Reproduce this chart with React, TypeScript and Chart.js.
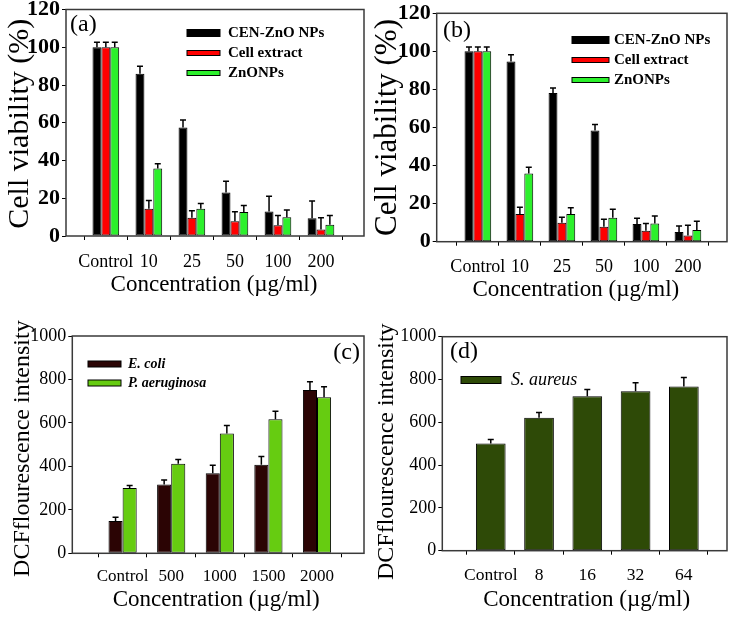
import React, { useEffect, useRef } from 'react';
import { Chart, registerables } from 'chart.js';

Chart.register(...registerables);

// ---------- data ----------
const viabilityLabels = ['Control', '10', '25', '50', '100', '200'];
const viabilitySeries = ['CEN-ZnO NPs', 'Cell extract', 'ZnONPs'];

const aCen = [100, 86, 57.5, 23, 13, 9.4];
const aCenErr = [2.7, 4, 4, 6, 8, 9.2];
const aExtract = [100, 14.5, 9.7, 7.8, 5.7, 3.5];
const aExtractErr = [2.7, 4.3, 3.7, 5.1, 5.1, 6.2];
const aZno = [100, 35.8, 14.5, 12.7, 9.9, 6.0];
const aZnoErr = [2.7, 2.5, 2.7, 3.4, 3.9, 4.8];

const bCen = [100, 94.7, 78.1, 58.4, 9.3, 5.1];
const bCenErr = [2.3, 3.5, 2.6, 3.2, 3, 3.1];
const bExtract = [100, 14.6, 10, 7.9, 5.8, 3.3];
const bExtractErr = [2.3, 3.5, 2.8, 3.9, 3.8, 5.4];
const bZno = [100, 35.8, 14.6, 12.6, 9.6, 6.1];
const bZnoErr = [2.3, 3.3, 3.3, 4.4, 3.9, 4.7];

const cLabels = ['Control', '500', '1000', '1500', '2000'];
const cSeries = ['E. coli', 'P. aeruginosa'];
const cEcoli = [149, 317, 368, 408, 751];
const cEcoliErr = [17, 20, 37, 38, 38];
const cPaer = [300, 412, 551, 617, 718];
const cPaerErr = [12, 20, 37, 37, 48];

const dLabels = ['Control', '8', '16', '32', '64'];
const dSeries = ['S. aureus'];
const dSaureus = [501, 621, 722, 745, 767];
const dSaureusErr = [19, 25, 31, 40, 42];

const viabilityAxis = { min: 0, max: 120, step: 20 };
const dcfAxis = { min: 0, max: 1000, step: 200 };

const viabilityYTitle = 'Cell viability (%)';
const dcfYTitle = 'DCFflourescence intensity';
const concTitle = 'Concentration (\u00b5g/ml)';

// ---------- styling ----------
const SERIF = '"Liberation Serif", "Times New Roman", serif';

const toPts = (vals: number[]) => vals.map((y, i) => ({ x: i, y }));

const decoPlugin = {
  id: 'deco',
  afterDatasetsDraw(chart: any, _args: any, opts: any) {
    const ctx = chart.ctx;
    const yScale = chart.scales.y;
    chart.data.datasets.forEach((ds: any, i: number) => {
      const errs = ds.errors;
      if (!errs) return;
      const meta = chart.getDatasetMeta(i);
      meta.data.forEach((bar: any, j: number) => {
        const v = ds.data[j].y;
        const top = yScale.getPixelForValue(v + errs[j]);
        ctx.save();
        ctx.strokeStyle = '#000';
        ctx.lineWidth = 1.5;
        ctx.beginPath();
        ctx.moveTo(bar.x, bar.y);
        ctx.lineTo(bar.x, top);
        ctx.moveTo(bar.x - opts.cap / 2, top);
        ctx.lineTo(bar.x + opts.cap / 2, top);
        ctx.stroke();
        ctx.restore();
      });
    });
  },
  afterDraw(chart: any, _args: any, opts: any) {
    const ctx = chart.ctx;
    const a = chart.chartArea;
    ctx.save();
    // frame
    ctx.strokeStyle = opts.boxColor;
    ctx.lineWidth = 1.5;
    ctx.strokeRect(a.left, a.top, a.right - a.left, a.bottom - a.top);

    ctx.fillStyle = '#000';
    // y title
    ctx.save();
    ctx.font = opts.yTitleFont;
    ctx.textAlign = 'center';
    ctx.textBaseline = 'middle';
    ctx.translate(opts.yTitleX, (a.top + a.bottom) / 2 + opts.yTitleDy);
    ctx.rotate(-Math.PI / 2);
    ctx.fillText(opts.yTitle, 0, 0);
    ctx.restore();
    // x title
    ctx.font = opts.xTitleFont;
    ctx.textAlign = 'center';
    ctx.textBaseline = 'middle';
    ctx.fillText(opts.xTitle, (a.left + a.right) / 2 + opts.xTitleDx, opts.xTitleY);
    // panel label
    ctx.font = opts.labelFont;
    ctx.textAlign = opts.labelAlign;
    ctx.fillText(opts.label, opts.labelX, opts.labelY);
    // legend
    ctx.textAlign = 'left';
    ctx.font = opts.legendFont;
    chart.data.datasets.forEach((ds: any, i: number) => {
      const cy = opts.legendY + i * opts.legendGap;
      const h = ds.legendH;
      ctx.fillStyle = ds.backgroundColor;
      ctx.fillRect(opts.legendX, cy - h / 2, opts.legendW, h);
      ctx.strokeStyle = '#000';
      ctx.lineWidth = 1;
      ctx.strokeRect(opts.legendX, cy - h / 2, opts.legendW, h);
      ctx.fillStyle = '#000';
      ctx.fillText(ds.label, opts.legendTextX, cy);
    });
    ctx.restore();
  },
};

type PanelSpec = {
  left: number;
  top: number;
  width: number;
  height: number;
  plot: { l: number; t: number; r: number; b: number };
  labels: string[];
  xMin: number;
  xMax: number;
  axis: { min: number; max: number; step: number };
  datasets: any[];
  catPct: number;
  yTickFont: any;
  xTickFont: any;
  xTickPad: number;
  deco: any;
};

function makeConfig(p: PanelSpec): any {
  return {
    type: 'bar',
    data: { datasets: p.datasets },
    plugins: [decoPlugin],
    options: {
      animation: false,
      responsive: false,
      devicePixelRatio: 1,
      layout: {
        padding: { left: 0, top: p.plot.t, right: p.width - p.plot.r, bottom: 0 },
      },
      datasets: {
        bar: {
          categoryPercentage: p.catPct,
          barPercentage: 1,
          borderWidth: 1,
          borderColor: '#000',
          borderSkipped: false,
        },
      },
      plugins: {
        legend: { display: false },
        tooltip: { enabled: false },
        deco: p.deco,
      },
      scales: {
        x: {
          type: 'linear',
          min: p.xMin,
          max: p.xMax,
          offset: false,
          afterBuildTicks: (s: any) => {
            s.ticks = p.labels.map((_, i) => ({ value: i }));
          },
          afterFit: (s: any) => {
            s.height = p.height - p.plot.b;
            s.paddingLeft = 0;
            s.paddingRight = 0;
          },
          ticks: {
            autoSkip: false,
            maxRotation: 0,
            minRotation: 0,
            padding: p.xTickPad,
            color: '#000',
            font: p.xTickFont,
            callback: (v: any) => p.labels[Math.round(v)] ?? '',
          },
          grid: {
            drawOnChartArea: false,
            drawTicks: true,
            tickLength: 4,
            color: '#000',
            lineWidth: 1,
          },
          border: { display: false },
        },
        y: {
          type: 'linear',
          min: p.axis.min,
          max: p.axis.max,
          afterFit: (s: any) => {
            s.width = p.plot.l;
            s.paddingTop = 0;
            s.paddingBottom = 0;
          },
          ticks: {
            stepSize: p.axis.step,
            padding: 2,
            color: '#000',
            font: p.yTickFont,
            callback: (v: any) => String(v),
          },
          grid: {
            drawOnChartArea: false,
            drawTicks: true,
            tickLength: 4,
            color: '#000',
            lineWidth: 1,
          },
          border: { display: false },
        },
      },
    },
  };
}

const GREEN_A = '#2cf02c';
const RED_A = '#ff0000';

const panels: PanelSpec[] = [
  {
    left: 0, top: 0, width: 367, height: 305,
    plot: { l: 66, t: 9.5, r: 364, b: 236 },
    labels: viabilityLabels,
    xMin: -0.926, xMax: 6.0,
    axis: viabilityAxis,
    catPct: 0.62,
    datasets: [
      { label: viabilitySeries[0], data: toPts(aCen), errors: aCenErr, backgroundColor: '#000', legendH: 7 },
      { label: viabilitySeries[1], data: toPts(aExtract), errors: aExtractErr, backgroundColor: RED_A, legendH: 5 },
      { label: viabilitySeries[2], data: toPts(aZno), errors: aZnoErr, backgroundColor: GREEN_A, legendH: 5 },
    ],
    yTickFont: { family: SERIF, size: 22, weight: 'bold' },
    xTickFont: { family: SERIF, size: 18 },
    xTickPad: 11,
    deco: {
      cap: 6, boxColor: '#3a3a3a',
      yTitle: viabilityYTitle, yTitleFont: `30px ${SERIF}`, yTitleX: 20, yTitleDy: 1,
      xTitle: concTitle, xTitleFont: `23px ${SERIF}`, xTitleDx: -1, xTitleY: 285,
      label: '(a)', labelFont: `24px ${SERIF}`, labelAlign: 'left', labelX: 70, labelY: 25,
      legendFont: `bold 15px ${SERIF}`, legendX: 187, legendW: 33, legendTextX: 228, legendY: 33, legendGap: 20,
    },
  },
  {
    left: 367, top: 0, width: 367, height: 305,
    plot: { l: 69.7, t: 13.3, r: 360, b: 241.7 },
    labels: viabilityLabels,
    xMin: -0.98, xMax: 5.93,
    axis: viabilityAxis,
    catPct: 0.635,
    datasets: [
      { label: viabilitySeries[0], data: toPts(bCen), errors: bCenErr, backgroundColor: '#000', legendH: 7 },
      { label: viabilitySeries[1], data: toPts(bExtract), errors: bExtractErr, backgroundColor: RED_A, legendH: 5 },
      { label: viabilitySeries[2], data: toPts(bZno), errors: bZnoErr, backgroundColor: GREEN_A, legendH: 5 },
    ],
    yTickFont: { family: SERIF, size: 22, weight: 'bold' },
    xTickFont: { family: SERIF, size: 18 },
    xTickPad: 10.5,
    deco: {
      cap: 6, boxColor: '#3a3a3a',
      yTitle: viabilityYTitle, yTitleFont: `31px ${SERIF}`, yTitleX: 21, yTitleDy: 0,
      xTitle: concTitle, xTitleFont: `23px ${SERIF}`, xTitleDx: -6, xTitleY: 290,
      label: '(b)', labelFont: `24px ${SERIF}`, labelAlign: 'left', labelX: 76, labelY: 31,
      legendFont: `bold 15px ${SERIF}`, legendX: 205, legendW: 37, legendTextX: 247, legendY: 40, legendGap: 20,
    },
  },
  {
    left: 0, top: 305, width: 367, height: 312,
    plot: { l: 72.3, t: 31, r: 364, b: 248.3 },
    labels: cLabels,
    xMin: -1.035, xMax: 4.967,
    axis: dcfAxis,
    catPct: 0.58,
    datasets: [
      { label: cSeries[0], data: toPts(cEcoli), errors: cEcoliErr, backgroundColor: '#2b0404', legendH: 6 },
      { label: cSeries[1], data: toPts(cPaer), errors: cPaerErr, backgroundColor: '#66cc11', legendH: 6 },
    ],
    yTickFont: { family: SERIF, size: 18 },
    xTickFont: { family: SERIF, size: 17 },
    xTickPad: 9.5,
    deco: {
      cap: 6, boxColor: '#3a3a3a',
      yTitle: dcfYTitle, yTitleFont: `24px ${SERIF}`, yTitleX: 23, yTitleDy: 4,
      xTitle: concTitle, xTitleFont: `23px ${SERIF}`, xTitleDx: -2, xTitleY: 295,
      label: '(c)', labelFont: `24px ${SERIF}`, labelAlign: 'right', labelX: 360, labelY: 48,
      legendFont: `italic bold 14px ${SERIF}`, legendX: 88, legendW: 33, legendTextX: 128, legendY: 59, legendGap: 19,
    },
  },
  {
    left: 367, top: 305, width: 367, height: 312,
    plot: { l: 75.3, t: 31.7, r: 360, b: 245.7 },
    labels: dLabels,
    xMin: -1.004, xMax: 4.894,
    axis: dcfAxis,
    catPct: 0.615,
    datasets: [
      { label: dSeries[0], data: toPts(dSaureus), errors: dSaureusErr, backgroundColor: '#2e4a07', legendH: 7 },
    ],
    yTickFont: { family: SERIF, size: 18 },
    xTickFont: { family: SERIF, size: 17.5 },
    xTickPad: 9.8,
    deco: {
      cap: 6, boxColor: '#3a3a3a',
      yTitle: dcfYTitle, yTitleFont: `24px ${SERIF}`, yTitleX: 19.5, yTitleDy: 8,
      xTitle: concTitle, xTitleFont: `23px ${SERIF}`, xTitleDx: 2, xTitleY: 295,
      label: '(d)', labelFont: `24px ${SERIF}`, labelAlign: 'left', labelX: 83, labelY: 47,
      legendFont: `italic 18px ${SERIF}`, legendX: 94, legendW: 40, legendTextX: 144, legendY: 75, legendGap: 20,
    },
  },
];

function Panel({ spec }: { spec: PanelSpec }) {
  const ref = useRef<HTMLCanvasElement | null>(null);
  useEffect(() => {
    if (!ref.current) return;
    const chart = new Chart(ref.current, makeConfig(spec));
    return () => chart.destroy();
  }, [spec]);
  return (
    <canvas
      ref={ref}
      width={spec.width}
      height={spec.height}
      style={{
        position: 'absolute',
        left: spec.left,
        top: spec.top,
        width: spec.width,
        height: spec.height,
      }}
    />
  );
}

export default function App() {
  return (
    <div
      style={{
        position: 'fixed',
        left: 0,
        top: 0,
        width: 734,
        height: 617,
        background: '#fff',
        overflow: 'hidden',
      }}
    >
      {panels.map((p, i) => (
        <Panel key={i} spec={p} />
      ))}
    </div>
  );
}
